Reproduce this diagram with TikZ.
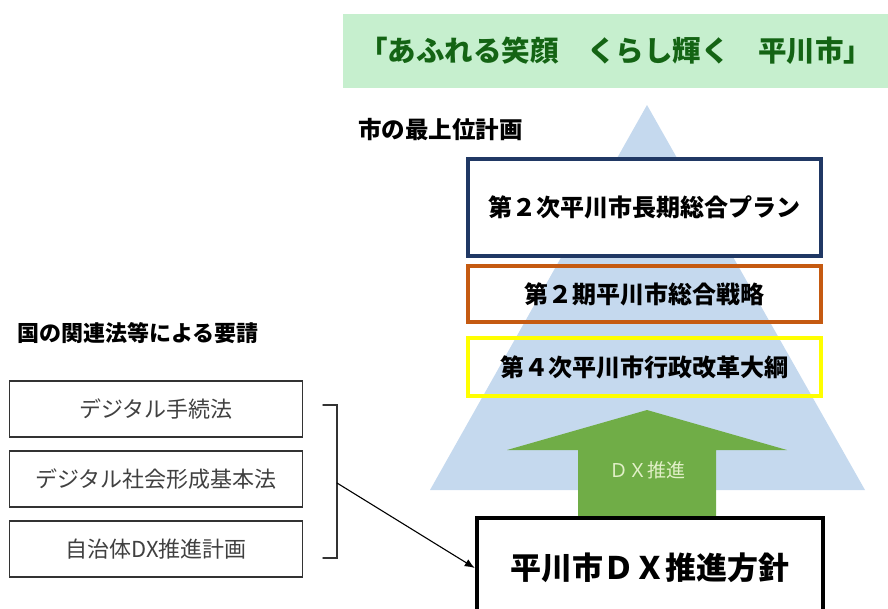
\documentclass[tikz,border=0pt]{standalone}
\usepackage{fontspec}
\setmainfont{Noto Sans CJK JP}
\usepackage{tikz}
\definecolor{navy}{RGB}{32,56,100}
\definecolor{rust}{RGB}{197,90,17}
\definecolor{lemon}{RGB}{255,255,0}
\definecolor{skyfill}{RGB}{197,217,238}
\definecolor{leaf}{RGB}{112,173,71}
\definecolor{paleleaf}{RGB}{226,240,200}
\definecolor{mint}{RGB}{198,239,206}
\definecolor{forest}{RGB}{20,100,20}
\usetikzlibrary{arrows.meta}

\begin{document}
\begin{tikzpicture}[line cap=round, x=1pt, y=-1pt,
  plan/.style={draw, line width=3.6pt, minimum width=353pt, inner sep=0pt, font=\fontsize{24}{28}\selectfont\bfseries},
  law/.style={draw=black!80, line width=1.5pt, minimum width=293pt, minimum height=56pt, inner sep=0pt, text=black!75, font=\fontsize{22}{26}\selectfont},
  head/.style={anchor=west, inner sep=0pt, font=\fontsize{22}{26}\selectfont\bfseries}]
	\useasboundingbox (0,0) rectangle (888,608);
	\clip (0,0) rectangle (888,608);
	\node[fill=mint, minimum width=545pt, minimum height=74pt, inner sep=0pt, text=forest, font=\fontsize{28.5}{33}\selectfont\bfseries] (motto) at (615.5,51) {「あふれる笑顔　くらし輝く　平川市」};
	\fill [skyfill] (647,105) -- (865,490) -- (430,490) -- cycle;
	\node[head, font=\fontsize{23.5}{27}\selectfont\bfseries] (toptitle) at (358,130) {市の最上位計画};
	\node[plan, draw=navy, fill=white, minimum height=97pt] (planA) at (644.5,207.5) {第２次平川市長期総合プラン};
	\node[plan, draw=rust, minimum height=56pt] (planB) at (644.5,294) {第２期平川市総合戦略};
	\node[plan, draw=lemon, minimum height=58pt] (planC) at (644.5,367) {第４次平川市行政改革大綱};
	\fill [leaf] (578,520) -- (578,450) -- (507,450) -- (647,410) -- (787,450) -- (716,450) -- (716,520) -- cycle;
	\node[text=paleleaf, font=\fontsize{19}{23}\selectfont] (dxlabel) at (647,470) {ＤＸ推進};
	\node[draw, line width=4.5pt, fill=white, minimum width=346pt, minimum height=100pt, inner sep=0pt, font=\fontsize{31}{36}\selectfont\bfseries] (dxplan) at (650,568) {平川市ＤＸ推進方針};
	\node[head] (lawtitle) at (17,333) {国の関連法等による要請};
	\node[law] (lawA) at (156,409) {デジタル手続法};
	\node[law] (lawB) at (156,479) {デジタル社会形成基本法};
	\node[law] (lawC) at (156,549) {自治体DX推進計画};
	\draw [line width=1.4pt, black!80] (323,405) -- (337,405) -- (337,558) -- (323,558);
	\coordinate (brk) at (337,483);
	\draw [line width=1.1pt, -{Latex[length=10pt,width=8pt]}] (brk) -- (dxplan.west);
\end{tikzpicture}
\end{document}
